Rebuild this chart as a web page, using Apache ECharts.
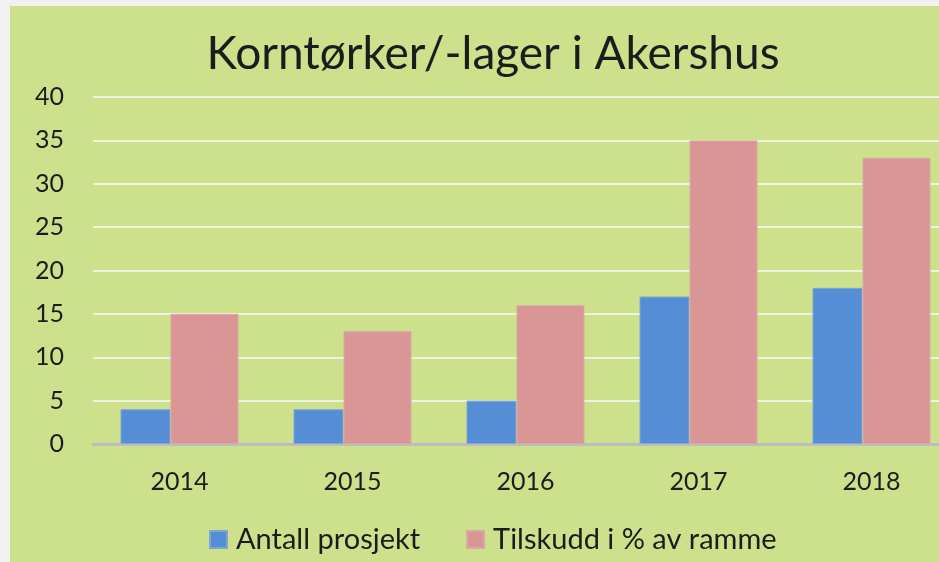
<!DOCTYPE html>
<html>
<head>
<meta charset="utf-8">
<script src="https://cdn.jsdelivr.net/npm/echarts@6/dist/echarts.min.js"></script>
<style>
  html, body { margin: 0; padding: 0; width: 939px; height: 562px; overflow: hidden; background: #f1f1f1; }
  #chart { position: absolute; left: 10px; top: 6px; width: 960px; height: 556px; }
</style>
</head>
<body>
<div id="chart"></div>
<script>
  // data
  var years = ['2014', '2015', '2016', '2017', '2018'];
  var antallProsjekt = [4, 4, 5, 17, 18];
  var tilskuddProsent = [15, 13, 16, 35, 33];
  var yTicks = { min: 0, max: 40, step: 5 };

  var chart = echarts.init(document.getElementById('chart'));
  var txt = '#1c1c1c';

  chart.setOption({
    backgroundColor: '#cde08b',
    animation: false,
    textStyle: { fontFamily: 'Lato' },
    title: {
      text: 'Korntørker/-lager i Akershus',
      left: 478,
      top: 20,
      textAlign: 'center',
      textStyle: { fontFamily: 'Lato', fontSize: 46, fontWeight: 'normal', color: txt }
    },
    legend: {
      left: 194,
      top: 514,
      itemWidth: 17,
      itemHeight: 17,
      itemGap: 46,
      icon: 'rect',
      textStyle: { fontFamily: 'Lato', fontSize: 29, color: txt, padding: [0, 0, 0, 4] },
      data: ['Antall prosjekt', 'Tilskudd i % av ramme']
    },
    grid: { left: 83, top: 91, width: 865, height: 347 },
    xAxis: {
      type: 'category',
      data: years,
      axisLine: { lineStyle: { color: '#bdbdbd', width: 3 } },
      axisTick: { show: false },
      axisLabel: { fontFamily: 'Lato', fontSize: 25, color: txt, margin: 25 }
    },
    yAxis: {
      type: 'value',
      min: yTicks.min,
      max: yTicks.max,
      interval: yTicks.step,
      axisLine: { show: false },
      axisTick: { show: false },
      axisLabel: { fontFamily: 'Lato', fontSize: 25, color: txt, margin: 29 },
      splitLine: { lineStyle: { color: '#eef2e0', width: 2 } }
    },
    series: [
      {
        name: 'Antall prosjekt',
        type: 'bar',
        data: antallProsjekt,
        barWidth: 50,
        barGap: '0%',
        itemStyle: { color: '#558ed5', borderColor: '#7ea5d6', borderWidth: 1 }
      },
      {
        name: 'Tilskudd i % av ramme',
        type: 'bar',
        data: tilskuddProsent,
        barWidth: 68,
        itemStyle: { color: '#d99694', borderColor: '#d8aaa4', borderWidth: 1 }
      }
    ]
  });
</script>
</body>
</html>
